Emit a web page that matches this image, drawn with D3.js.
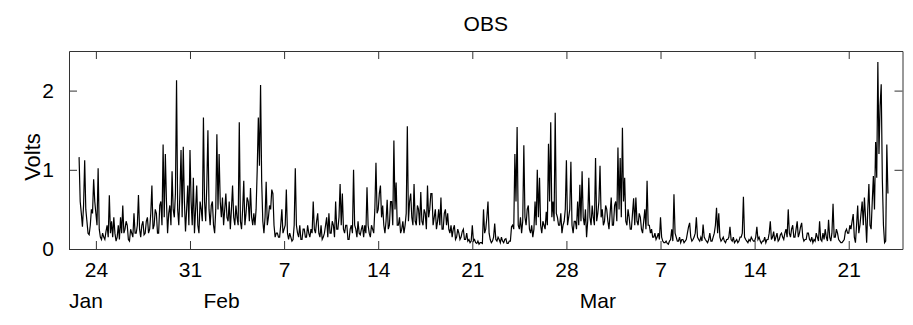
<!DOCTYPE html>
<html>
<head>
<meta charset="utf-8">
<script src="https://cdn.jsdelivr.net/npm/d3@7"></script>
<style>
  html, body { margin: 0; padding: 0; background: #fff; }
  svg text { font-family: "Liberation Sans", Arial, Helvetica, sans-serif; fill: #000; }
</style>
</head>
<body>
<svg id="chart" width="913" height="325"></svg>
<script>
// ---- data (2-hourly samples, first sample 2007-01-22 18:00 UTC) ----
const title = "OBS";
const yLabel = "Volts";
const seriesStart = "2007-01-22T18:00:00Z";
const stepHours = 2;
const volts = [
  1.16, 0.6, 0.45,                                                  // Jan 22 (18-22h)
  0.28, 0.55, 1.12, 0.5, 0.35, 0.2, 0.18, 0.3, 0.5, 0.45, 0.88, 0.6,   // Jan 23
  0.45, 0.3, 1.02, 0.25, 0.15, 0.12, 0.2, 0.15, 0.12, 0.22, 0.3, 0.15, // Jan 24
  0.68, 0.2, 0.35, 0.15, 0.4, 0.2, 0.1, 0.15, 0.3, 0.12, 0.4, 0.2,     // Jan 25
  0.55, 0.2, 0.25, 0.35, 0.3, 0.12, 0.1, 0.25, 0.2, 0.15, 0.45, 0.2,   // Jan 26
  0.2, 0.3, 0.68, 0.25, 0.15, 0.3, 0.35, 0.18, 0.2, 0.35, 0.4, 0.2,    // Jan 27
  0.25, 0.45, 0.8, 0.25, 0.3, 0.5, 0.45, 0.2, 0.2, 0.55, 0.6, 0.3,     // Jan 28
  1.32, 0.4, 1.2, 0.6, 0.2, 0.45, 0.55, 0.3, 0.98, 0.5, 0.4, 0.7,      // Jan 29
  2.13, 0.5, 0.3, 0.7, 1.25, 0.4, 1.29, 0.6, 0.22, 0.5, 0.8, 0.3,      // Jan 30
  1.25, 0.6, 0.3, 0.9, 0.2, 0.5, 0.8, 0.3, 0.2, 0.6, 0.5, 0.35,        // Jan 31
  1.66, 0.6, 0.35, 0.8, 1.5, 0.5, 0.3, 0.55, 0.6, 0.3, 0.2, 0.5,       // Feb 1
  1.45, 0.5, 1.2, 0.6, 0.4, 0.65, 0.3, 0.5, 0.7, 0.4, 0.35, 0.6,       // Feb 2
  0.25, 0.5, 0.8, 0.4, 0.3, 0.55, 0.4, 0.3, 1.6, 0.35, 0.25, 0.5,      // Feb 3
  0.86, 0.3, 0.45, 0.65, 0.6, 0.35, 0.77, 0.4, 0.3, 0.45, 0.3, 0.5,    // Feb 4
  1.0, 1.66, 1.05, 2.07, 0.85, 0.35, 0.2, 0.4, 0.85, 0.3, 0.4, 0.55,   // Feb 5
  0.5, 0.75, 0.7, 0.3, 0.15, 0.2, 0.2, 0.15, 0.15, 0.3, 0.5, 0.2,      // Feb 6
  0.25, 0.3, 0.75, 0.2, 0.12, 0.2, 0.15, 0.1, 0.12, 0.3, 1.02, 0.3,    // Feb 7
  0.2, 0.15, 0.3, 0.12, 0.12, 0.25, 0.25, 0.15, 0.15, 0.3, 0.2, 0.15,  // Feb 8
  0.25, 0.2, 0.6, 0.25, 0.2, 0.35, 0.45, 0.2, 0.15, 0.3, 0.12, 0.15,   // Feb 9
  0.2, 0.3, 0.4, 0.15, 0.45, 0.2, 0.2, 0.35, 0.3, 0.15, 0.6, 0.25,     // Feb 10
  0.25, 0.4, 0.82, 0.3, 0.7, 0.25, 0.2, 0.3, 0.3, 0.12, 0.12, 0.25,    // Feb 11
  0.3, 0.2, 1.0, 0.3, 0.25, 0.15, 0.35, 0.2, 0.18, 0.25, 0.3, 0.15,    // Feb 12
  0.3, 0.2, 0.78, 0.3, 0.2, 0.15, 0.3, 0.25, 0.2, 0.5, 1.09, 0.45,     // Feb 13
  0.5, 0.7, 0.8, 0.4, 0.55, 0.3, 0.2, 0.35, 0.62, 0.25, 0.3, 0.6,      // Feb 14
  0.6, 0.3, 1.37, 0.5, 0.84, 0.3, 0.3, 0.4, 0.2, 0.25, 0.35, 0.2,      // Feb 15
  0.3, 0.45, 1.55, 0.35, 0.6, 0.7, 0.4, 0.3, 0.82, 0.35, 0.3, 0.55,    // Feb 16
  0.5, 0.3, 0.72, 0.35, 0.3, 0.5, 0.45, 0.25, 0.8, 0.4, 0.5, 0.7,      // Feb 17
  0.7, 0.3, 0.4, 0.5, 0.25, 0.35, 0.5, 0.3, 0.65, 0.25, 0.25, 0.45,    // Feb 18
  0.5, 0.3, 0.45, 0.25, 0.2, 0.3, 0.15, 0.25, 0.3, 0.12, 0.15, 0.25,   // Feb 19
  0.2, 0.12, 0.15, 0.22, 0.25, 0.12, 0.12, 0.2, 0.1, 0.12, 0.08, 0.1,  // Feb 20
  0.3, 0.1, 0.12, 0.08, 0.07, 0.1, 0.06, 0.08, 0.08, 0.07, 0.5, 0.2,   // Feb 21
  0.25, 0.4, 0.6, 0.2, 0.12, 0.08, 0.1, 0.15, 0.32, 0.12, 0.1, 0.15,   // Feb 22
  0.12, 0.08, 0.15, 0.1, 0.08, 0.12, 0.13, 0.07, 0.07, 0.1, 0.1, 0.28, // Feb 23
  0.3, 0.25, 1.2, 0.6, 1.54, 0.3, 0.25, 0.4, 0.2, 0.35, 1.31, 0.4,     // Feb 24
  0.3, 0.5, 0.55, 0.25, 0.2, 0.3, 0.15, 0.25, 0.6, 0.3, 1.0, 0.4,      // Feb 25
  0.9, 0.3, 0.2, 0.35, 0.3, 0.25, 0.47, 0.3, 1.33, 0.6, 1.6, 0.4,      // Feb 26
  0.6, 0.35, 1.72, 0.45, 0.4, 0.3, 0.3, 0.45, 0.2, 0.3, 0.35, 0.5,     // Feb 27
  1.12, 0.3, 0.4, 0.5, 1.1, 0.3, 0.2, 0.35, 0.35, 0.25, 0.6, 0.3,      // Feb 28
  0.81, 0.35, 0.98, 0.4, 0.3, 0.5, 0.15, 0.35, 0.9, 0.4, 0.3, 0.55,    // Mar 1
  0.4, 0.3, 1.15, 0.35, 0.45, 0.6, 1.05, 0.4, 0.5, 0.3, 0.35, 0.55,    // Mar 2
  0.5, 0.35, 0.25, 0.45, 0.65, 0.3, 0.3, 0.55, 0.6, 0.35, 1.28, 0.5,   // Mar 3
  1.15, 0.4, 1.53, 0.6, 0.9, 0.35, 0.3, 0.5, 0.4, 0.25, 0.25, 0.45,    // Mar 4
  0.64, 0.3, 0.65, 0.35, 0.3, 0.45, 0.4, 0.25, 0.2, 0.35, 0.5, 0.25,   // Mar 5
  0.86, 0.3, 0.3, 0.2, 0.25, 0.15, 0.15, 0.2, 0.12, 0.15, 0.2, 0.12,   // Mar 6
  0.4, 0.15, 0.1, 0.08, 0.08, 0.1, 0.07, 0.06, 0.1, 0.12, 0.25, 0.1,   // Mar 7
  0.69, 0.2, 0.15, 0.1, 0.1, 0.15, 0.08, 0.12, 0.12, 0.08, 0.1, 0.12,  // Mar 8
  0.2, 0.28, 0.33, 0.15, 0.1, 0.12, 0.15, 0.2, 0.4, 0.15, 0.12, 0.1,   // Mar 9
  0.15, 0.1, 0.31, 0.15, 0.12, 0.1, 0.08, 0.12, 0.2, 0.1, 0.1, 0.15,   // Mar 10
  0.2, 0.3, 0.52, 0.2, 0.45, 0.15, 0.1, 0.12, 0.15, 0.1, 0.08, 0.12,   // Mar 11
  0.12, 0.15, 0.28, 0.12, 0.1, 0.15, 0.08, 0.1, 0.12, 0.08, 0.1, 0.15, // Mar 12
  0.15, 0.2, 0.66, 0.15, 0.12, 0.1, 0.08, 0.12, 0.1, 0.15, 0.12, 0.1,  // Mar 13
  0.1, 0.15, 0.28, 0.12, 0.15, 0.1, 0.07, 0.1, 0.1, 0.15, 0.08, 0.12,  // Mar 14
  0.12, 0.2, 0.35, 0.12, 0.15, 0.22, 0.1, 0.15, 0.2, 0.1, 0.12, 0.18,  // Mar 15
  0.2, 0.15, 0.12, 0.2, 0.25, 0.15, 0.5, 0.2, 0.15, 0.25, 0.3, 0.15,   // Mar 16
  0.15, 0.25, 0.35, 0.15, 0.2, 0.28, 0.33, 0.15, 0.1, 0.12, 0.12, 0.2, // Mar 17
  0.2, 0.12, 0.1, 0.15, 0.08, 0.12, 0.1, 0.2, 0.15, 0.1, 0.35, 0.12,   // Mar 18
  0.1, 0.2, 0.12, 0.25, 0.15, 0.1, 0.37, 0.15, 0.1, 0.2, 0.57, 0.15,   // Mar 19
  0.15, 0.25, 0.2, 0.12, 0.1, 0.08, 0.08, 0.1, 0.12, 0.22, 0.25, 0.2,  // Mar 20
  0.2, 0.3, 0.25, 0.35, 0.44, 0.15, 0.08, 0.3, 0.55, 0.2, 0.3, 0.45,   // Mar 21
  0.6, 0.3, 0.65, 0.4, 0.08, 0.5, 0.82, 0.3, 0.25, 0.6, 0.92, 0.5,     // Mar 22
  1.35, 0.9, 2.36, 1.2, 1.81, 2.08, 0.88, 0.3, 0.08, 0.1, 1.32, 0.7    // Mar 23
];
const xDomain = ["2007-01-22", "2007-03-25"];
const yDomain = [0, 2.5];
const xTickDates = ["2007-01-24", "2007-01-31", "2007-02-07", "2007-02-14", "2007-02-21",
                    "2007-02-28", "2007-03-07", "2007-03-14", "2007-03-21"];
const xTickLabels = ["24", "31", "7", "14", "21", "28", "7", "14", "21"];
const monthDates = ["2007-01-22", "2007-02-01", "2007-03-01"];
const monthLabels = ["Jan", "Feb", "Mar"];
const yTicks = [0, 1, 2];

// ---- layout ----
const mLeft = 69, mRight = 902.5, mTop = 51, mBottom = 249;
const fontSize = 21;
const tickLen = 8;

const svg = d3.select("#chart");
const parse = s => new Date(s);

const x = d3.scaleUtc().domain(xDomain.map(parse)).range([mLeft, mRight]);
const y = d3.scaleLinear().domain(yDomain).range([mBottom, mTop]);

const t0 = parse(seriesStart).getTime();
const data = volts.map((v, i) => ({ t: new Date(t0 + i * stepHours * 3600e3), v }));

// data line
const line = d3.line().x(d => x(d.t)).y(d => y(d.v));
svg.append("path")
  .datum(data)
  .attr("d", line)
  .attr("fill", "none")
  .attr("stroke", "#000")
  .attr("stroke-width", 1.2)
  .attr("stroke-linejoin", "miter");

// axes (box with inward ticks on all sides)
const axColor = "#333";
const tickDates = xTickDates.map(parse);

const axBottom = d3.axisBottom(x).tickValues(tickDates).tickSizeInner(-tickLen).tickSizeOuter(0)
  .tickPadding(13).tickFormat((d, i) => xTickLabels[i]);
const gB = svg.append("g").attr("transform", `translate(0,${mBottom})`).call(axBottom);

const axTop = d3.axisTop(x).tickValues(tickDates).tickSizeInner(-tickLen).tickSizeOuter(0).tickFormat("");
const gT = svg.append("g").attr("transform", `translate(0,${mTop})`).call(axTop);

const axLeft = d3.axisLeft(y).tickValues(yTicks).tickSizeInner(-tickLen).tickSizeOuter(0)
  .tickPadding(15).tickFormat(d3.format("d"));
const gL = svg.append("g").attr("transform", `translate(${mLeft},0)`).call(axLeft);

const axRight = d3.axisRight(y).tickValues(yTicks).tickSizeInner(-tickLen).tickSizeOuter(0).tickFormat("");
const gR = svg.append("g").attr("transform", `translate(${mRight},0)`).call(axRight);

[gB, gT, gL, gR].forEach(g => {
  g.selectAll("path.domain").attr("stroke", axColor).attr("stroke-width", 1);
  g.selectAll(".tick line").attr("stroke", axColor).attr("stroke-width", 1);
  g.selectAll("text").attr("font-size", fontSize)
    .attr("font-family", '"Liberation Sans", Arial, Helvetica, sans-serif').attr("fill", "#000");
});

// month labels, left-aligned at month start
svg.append("g").selectAll("text")
  .data(monthDates)
  .join("text")
  .attr("x", d => x(parse(d)))
  .attr("y", 308)
  .attr("font-size", fontSize)
  .text((d, i) => monthLabels[i]);

// title
svg.append("text")
  .attr("x", (mLeft + mRight) / 2)
  .attr("y", 31)
  .attr("text-anchor", "middle")
  .attr("font-size", fontSize)
  .text(title);

// y label
svg.append("text")
  .attr("transform", `translate(40,157) rotate(-90)`)
  .attr("text-anchor", "middle")
  .attr("font-size", 22)
  .text(yLabel);
</script>
</body>
</html>
